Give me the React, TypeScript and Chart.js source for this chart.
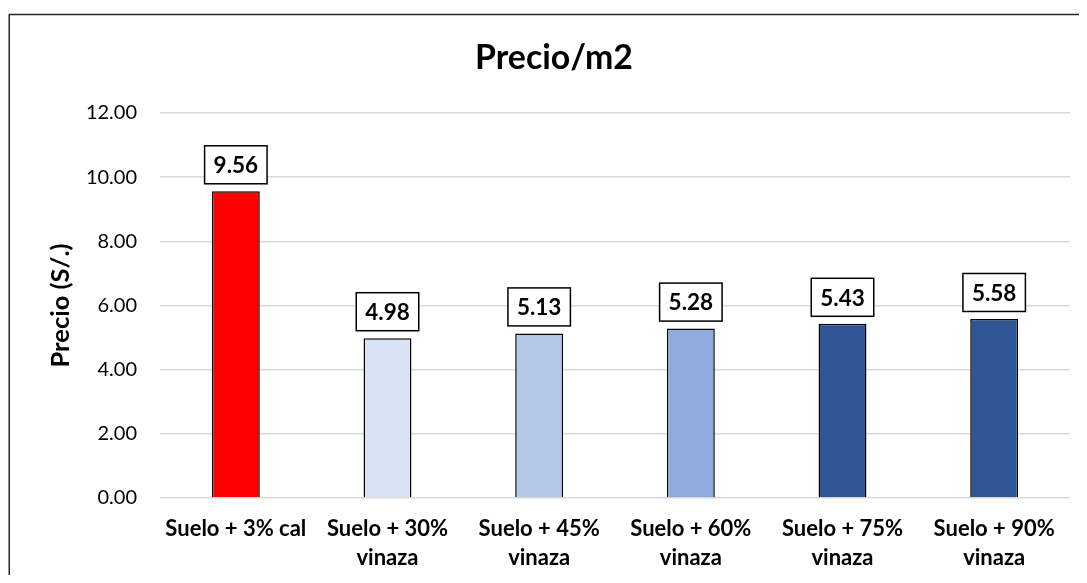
import React, { useEffect, useRef } from "react";
import { Chart, registerables } from "chart.js";

Chart.register(...registerables);

const chartTitle = "Precio/m2";
const yAxisTitle = "Precio (S/.)";
const categories: (string | string[])[] = [
  "Suelo + 3% cal",
  ["Suelo + 30%", "vinaza"],
  ["Suelo + 45%", "vinaza"],
  ["Suelo + 60%", "vinaza"],
  ["Suelo + 75%", "vinaza"],
  ["Suelo + 90%", "vinaza"],
];
const prices = [9.56, 4.98, 5.13, 5.28, 5.43, 5.58];
const barColors = ["#FF0000", "#DAE3F3", "#B4C7E7", "#8FAADC", "#2F5597", "#2F5597"];
const yMin = 0;
const yMax = 12;
const yStep = 2;

const FONT = "Lato, 'Open Sans', sans-serif";

function fitFont(ctx: CanvasRenderingContext2D, text: string, target: number, base: number) {
  ctx.font = `bold ${base}px ${FONT}`;
  const w = ctx.measureText(text).width;
  const size = (base * target) / w;
  ctx.font = `bold ${size}px ${FONT}`;
}

const decorPlugin = {
  id: "decor",
  beforeDraw(chart: any) {
    const ctx = chart.ctx;
    ctx.save();
    ctx.fillStyle = "#ffffff";
    ctx.fillRect(0, 0, chart.width, chart.height);
    ctx.restore();
  },
  afterDraw(chart: any) {
    const ctx = chart.ctx;
    const area = chart.chartArea;
    ctx.save();
    // outer frame (right and bottom edges lie outside the view)
    ctx.strokeStyle = "#262626";
    ctx.lineWidth = 1.5;
    ctx.beginPath();
    ctx.moveTo(1.25, chart.height + 5);
    ctx.lineTo(1.25, 6.5);
    ctx.lineTo(chart.width + 5, 6.5);
    ctx.stroke();

    // title
    ctx.fillStyle = "#000000";
    fitFont(ctx, chartTitle, 158, 34);
    ctx.textAlign = "center";
    ctx.textBaseline = "middle";
    ctx.fillText(chartTitle, 546, 50);

    // y axis title
    ctx.save();
    ctx.translate(53, (area.top + area.bottom) / 2);
    ctx.rotate(-Math.PI / 2);
    fitFont(ctx, yAxisTitle, 124, 22);
    ctx.fillText(yAxisTitle, 0, 0);
    ctx.restore();

    // data labels
    const meta = chart.getDatasetMeta(0);
    ctx.font = `bold 22.5px ${FONT}`;
    meta.data.forEach((bar: any, i: number) => {
      const txt = prices[i].toFixed(2);
      const tw = ctx.measureText(txt).width;
      const w = Math.max(60, tw + 18);
      const h = 38;
      const cx = bar.x;
      const bottom = bar.y - 7.5;
      const x0 = cx - w / 2;
      const y0 = bottom - h;
      ctx.fillStyle = "#ffffff";
      ctx.fillRect(x0, y0, w, h);
      ctx.strokeStyle = "#000000";
      ctx.lineWidth = 1.5;
      ctx.strokeRect(x0, y0, w, h);
      ctx.fillStyle = "#000000";
      ctx.textAlign = "center";
      ctx.textBaseline = "middle";
      ctx.fillText(txt, cx, y0 + h / 2 + 1);
    });
    ctx.restore();
  },
};

export default function App() {
  const ref = useRef<HTMLCanvasElement | null>(null);
  useEffect(() => {
    if (!ref.current) return;
    const chart = new Chart(ref.current, {
      type: "bar",
      data: {
        labels: categories,
        datasets: [
          {
            data: prices,
            backgroundColor: barColors,
            borderColor: "#000000",
            borderWidth: 1.5,
            barPercentage: 0.316,
            categoryPercentage: 1,
          },
        ],
      },
      options: {
        animation: false,
        responsive: true,
        maintainAspectRatio: false,
        layout: { padding: { top: 105, right: 17, left: 0, bottom: 0 } },
        plugins: {
          legend: { display: false },
          title: { display: false },
          tooltip: { enabled: false },
        },
        scales: {
          x: {
            grid: { display: false, drawTicks: false },
            border: { display: false },
            ticks: {
              color: "#000000",
              font: { family: FONT, size: 22, weight: "bold", lineHeight: 1.3 },
              padding: 17,
              maxRotation: 0,
              autoSkip: false,
            },
            afterFit: (s: any) => {
              s.height = 77;
            },
          },
          y: {
            min: yMin,
            max: yMax,
            grid: { color: "#D9D9D9", lineWidth: 1.5, drawTicks: false },
            border: { display: false },
            ticks: {
              stepSize: yStep,
              color: "#000000",
              font: { family: FONT, size: 20 },
              padding: 23,
              callback: (v: any) => Number(v).toFixed(2),
            },
            afterFit: (s: any) => {
              s.width = 152;
            },
          },
        },
      },
      plugins: [decorPlugin],
    });
    return () => chart.destroy();
  }, []);
  return (
    <div style={{ width: 1079, height: 567, position: "relative" }}>
      <canvas ref={ref} />
    </div>
  );
}
